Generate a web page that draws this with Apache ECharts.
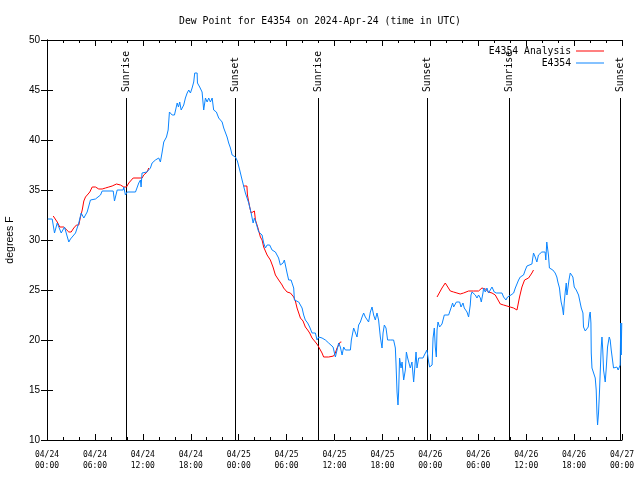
<!DOCTYPE html>
<html><head><meta charset="utf-8">
<script src="https://cdn.jsdelivr.net/npm/echarts@6/dist/echarts.min.js"></script>
<style>html,body{margin:0;padding:0;background:#fff}#c{width:640px;height:480px}</style>
</head><body><div id="c"></div>
<script>
// x values are hours since 2024-04-24 00:00 UTC
const tickDates = ['04/24','04/24','04/24','04/24','04/25','04/25','04/25','04/25','04/26','04/26','04/26','04/26','04/27'];
const tickTimes = ['00:00','06:00','12:00','18:00','00:00','06:00','12:00','18:00','00:00','06:00','12:00','18:00','00:00'];
const sunHours = [9.93, 23.6, 33.97, 47.63, 57.89, 71.75];
const sunNames = ['Sunrise','Sunset','Sunrise','Sunset','Sunrise','Sunset'];

const analysisPoints = [
[0.78,32.4],[1.03,32.4],[1.28,31.8],[1.6,31.3],[2.1,31.3],[2.32,31.1],[2.73,30.8],[3.03,30.8],[3.35,31.2],[3.69,31.5],[3.98,31.5],[4.19,32.3],[4.41,33.0],[4.61,33.9],[4.82,34.3],[5.03,34.3],[5.36,34.8],[5.66,35.3],[6.07,35.3],[6.48,35.1],[6.91,35.1],[7.32,35.2],[7.74,35.3],[8.16,35.4],[8.7,35.6],[9.2,35.5],[9.61,35.3],[9.95,35.3],[10.24,35.7],[10.45,35.7],[10.79,36.2],[11.91,36.2],[12.11,36.5],[12.54,36.8],[12.74,37.2],
[18.6,null],
[24.6,35.4],[25.03,35.4],[25.1,34.5],[25.38,33.3],[25.56,32.7],[25.81,32.7],[25.97,32.9],[26.1,32.0],[26.38,31.3],[26.72,30.3],[26.93,30.0],[27.13,29.3],[27.56,28.5],[27.97,28.0],[28.3,27.3],[28.6,26.5],[29.01,26.0],[29.44,25.5],[29.63,25.2],[30.06,24.8],[30.48,24.7],[30.89,24.3],[31.1,23.9],[31.31,23.2],[31.52,22.7],[31.73,22.2],[32.06,21.9],[32.35,21.3],[32.64,21.0],[32.89,20.7],[33.19,20.2],[33.6,19.8],[33.89,19.5],[34.23,19.0],[34.44,18.7],[34.64,18.3],[35.27,18.3],[35.89,18.4],[36.1,18.7],[36.32,19.2],[36.52,19.5],[36.73,19.8],[36.86,19.8],
[42,null],
[48.84,24.3],[49.04,24.5],[49.46,25.2],[49.87,25.7],[50.08,25.6],[50.5,24.9],[50.91,24.8],[51.33,24.7],[51.74,24.6],[52.16,24.7],[52.79,24.9],[53.41,24.9],[54.04,24.9],[54.46,25.2],[54.88,25.1],[55.29,24.8],[55.72,24.7],[56.13,24.5],[56.34,24.2],[56.76,23.6],[57.17,23.5],[57.59,23.4],[58.0,23.3],[58.42,23.2],[58.85,23.0],[58.97,23.2],[59.17,24.3],[59.47,25.3],[59.67,25.5],[59.8,26.0],[60.01,25.8],[60.3,26.2],[60.72,26.7],[60.92,27.0]
];

const stationPoints = [
[0.1,32.1],[0.65,32.1],[0.94,30.7],[1.28,31.7],[1.78,30.7],[2.19,31.3],[2.44,31.2],[2.73,29.8],[2.94,30.1],[3.19,30.0],[3.57,30.7],[3.98,31.7],[4.28,32.7],[4.61,32.2],[5.03,32.8],[5.44,34.0],[6.07,34.1],[6.7,34.5],[6.91,34.9],[8.29,34.9],[8.45,33.9],[8.79,35.0],[9.54,35.0],[9.61,35.3],[9.82,34.5],[10.04,34.8],[11.08,34.8],[11.49,35.7],[11.7,36.0],[11.78,35.3],[11.9,36.7],[12.5,36.8],[12.95,37.2],[13.16,37.7],[13.58,38.0],[13.99,38.2],[14.2,37.8],[14.42,38.8],[14.62,39.8],[14.96,40.3],[15.17,41.0],[15.33,42.8],[15.67,42.5],[15.96,42.5],[16.3,43.7],[16.46,43.3],[16.62,43.8],[16.8,43.0],[17.12,43.5],[17.33,44.2],[17.55,44.7],[17.75,45.0],[17.96,44.7],[18.17,45.2],[18.37,45.8],[18.5,46.7],[18.8,46.7],[18.84,45.7],[19.12,45.3],[19.42,44.8],[19.62,43.0],[19.84,44.2],[20.05,43.8],[20.25,44.2],[20.46,43.8],[20.68,44.2],[20.87,43.0],[21.21,42.8],[21.5,42.2],[21.93,41.8],[22.13,41.2],[22.55,40.3],[22.75,39.7],[22.97,39.2],[23.18,38.5],[23.59,38.3],[23.84,37.9],[24.13,37.0],[24.43,36.0],[24.84,34.7],[25.26,33.7],[25.56,32.7],[25.81,31.7],[25.97,32.2],[26.18,31.7],[26.51,30.8],[26.93,30.5],[27.13,29.7],[27.35,29.2],[27.56,29.5],[27.88,29.5],[28.18,29.0],[28.38,29.2],[28.6,28.8],[28.81,28.8],[29.0,28.2],[29.22,27.5],[29.56,27.7],[29.72,28.0],[29.85,27.8],[30.06,26.7],[30.26,26.0],[30.56,26.0],[30.89,25.2],[30.98,24.0],[31.23,23.8],[31.52,23.8],[31.73,23.7],[31.94,23.2],[32.14,22.5],[32.35,22.0],[32.64,21.7],[32.89,21.3],[33.19,20.7],[33.6,20.7],[33.82,20.0],[34.02,20.3],[34.44,20.2],[34.86,20.0],[35.07,20.0],[35.27,19.7],[35.48,19.7],[35.82,19.3],[36.11,18.3],[36.32,19.0],[36.52,19.7],[36.73,19.3],[36.95,18.5],[37.15,19.3],[37.36,19.0],[37.57,18.8],[37.99,19.0],[38.11,20.0],[38.4,21.2],[38.61,21.2],[38.82,20.3],[39.02,21.5],[39.24,21.8],[39.45,22.3],[39.65,22.7],[39.86,22.3],[40.07,22.5],[40.27,21.8],[40.49,22.8],[40.7,23.3],[40.9,22.5],[41.11,22.0],[41.32,22.7],[41.52,22.0],[41.74,20.3],[41.95,19.2],[42.08,20.7],[42.24,21.5],[42.45,21.2],[42.65,20.0],[42.99,20.0],[43.4,20.0],[43.62,19.2],[43.7,17.7],[43.83,14.8],[43.95,13.5],[44.03,14.8],[44.15,18.2],[44.33,17.2],[44.46,17.8],[44.66,16.0],[44.87,17.0],[45.0,18.8],[45.16,18.2],[45.28,18.2],[45.49,17.2],[45.7,17.8],[45.91,15.8],[46.03,17.0],[46.21,18.8],[46.33,17.2],[46.54,18.2],[46.75,18.1],[47.08,18.2],[47.25,18.5],[47.58,19.0],[47.75,19.1],[47.79,17.8],[47.91,17.3],[48.22,17.5],[48.34,20.2],[48.5,21.2],[48.62,19.3],[48.75,18.3],[48.84,21.0],[48.96,21.8],[49.16,21.3],[49.46,21.6],[49.75,22.5],[49.87,22.3],[50.29,22.5],[50.5,22.7],[50.63,23.3],[50.79,23.7],[50.92,23.3],[51.26,23.8],[51.67,23.8],[51.84,23.3],[52.09,23.7],[52.25,23.2],[52.59,22.8],[52.79,22.3],[53.0,23.5],[53.09,24.5],[53.22,24.8],[53.42,24.7],[53.63,24.5],[53.84,24.2],[54.04,24.5],[54.26,24.2],[54.38,23.8],[54.59,24.7],[54.67,25.2],[54.88,24.8],[55.09,25.2],[55.29,24.7],[55.51,25.0],[55.72,25.3],[55.88,25.3],[56.0,24.8],[56.26,24.7],[56.42,24.7],[56.97,24.7],[57.17,24.3],[57.47,24.0],[57.67,24.3],[57.92,24.3],[58.1,24.5],[58.43,24.7],[58.64,25.2],[58.85,25.3],[59.05,26.0],[59.26,26.3],[59.67,26.5],[59.89,27.0],[60.1,27.4],[60.72,27.6],[60.92,28.7],[61.13,28.3],[61.34,27.8],[61.54,28.5],[61.75,28.3],[61.96,28.8],[62.16,28.6],[62.37,28.8],[62.46,28.0],[62.58,29.8],[62.66,29.8],[62.79,28.5],[62.91,27.2],[63.34,27.0],[63.63,26.7],[63.84,26.3],[63.97,25.8],[64.17,25.2],[64.26,24.5],[64.38,23.8],[64.55,23.2],[64.67,22.5],[64.76,23.7],[64.89,24.8],[65.02,25.7],[65.1,24.5],[65.23,25.2],[65.36,26.0],[65.52,26.7],[65.73,26.7],[65.85,26.3],[66.02,25.3],[66.27,25.0],[66.56,24.5],[66.77,23.7],[66.9,23.2],[67.11,22.7],[67.18,21.3],[67.4,20.9],[67.61,20.8],[67.77,21.3],[67.93,22.5],[68.02,22.8],[68.11,21.7],[68.15,18.7],[68.24,17.2],[68.44,17.0],[68.65,16.2],[68.77,15.0],[68.86,12.7],[68.94,11.5],[69.06,12.7],[69.19,15.0],[69.27,16.7],[69.4,19.3],[69.49,20.3],[69.59,19.0],[69.69,17.0],[69.9,15.8],[70.03,17.2],[70.19,19.3],[70.4,20.3],[70.52,20.0],[70.65,19.0],[70.81,18.8],[70.94,17.2],[71.15,17.3],[71.36,17.3],[71.52,17.0],[71.65,16.8],[71.77,17.5],[71.84,21.7],[71.9,18.5],[71.97,21.7]
];

const xMin = 0, xMax = 72, xStep = 6;
const yMin = 10, yMax = 50, yStep = 5;

const mono = '"DejaVu Sans Mono", "Liberation Mono", monospace';
const sans = '"Liberation Sans", Arial, sans-serif';

const chart = echarts.init(document.getElementById('c'), null, {renderer: 'canvas'});
const axisLine = {show: true, lineStyle: {color: '#000', width: 1}};
const xTick = {show: true, inside: true, length: 6, lineStyle: {color: '#000'}};
const xMinor = {show: true, splitNumber: 3, length: 3, lineStyle: {color: '#000'}};
const legendText = {fontFamily: mono, fontSize: 9.75, color: '#000'};

chart.setOption({
  animation: false,
  backgroundColor: '#fff',
  title: {
    text: 'Dew Point for E4354 on 2024-Apr-24 (time in UTC)',
    left: 'center', top: 11,
    textStyle: {fontFamily: mono, fontSize: 9.75, fontWeight: 'normal', color: '#000'}
  },
  legend: [
    {data: ['E4354 Analysis'], right: 31, top: 41, orient: 'vertical', align: 'right',
     icon: 'rect', itemWidth: 28, itemHeight: 1, textStyle: legendText},
    {data: ['E4354'], right: 31, top: 53, orient: 'vertical', align: 'right',
     icon: 'rect', itemWidth: 28, itemHeight: 1, textStyle: legendText}
  ],
  grid: {left: 47, right: 18, top: 40, bottom: 40, containLabel: false, outerBoundsMode: 'none'},
  xAxis: [
    {type: 'value', position: 'bottom', min: xMin, max: xMax, interval: xStep,
     axisLine: axisLine, axisTick: xTick, minorTick: xMinor, splitLine: {show: false},
     axisLabel: {margin: 9, fontFamily: mono, fontSize: 8, lineHeight: 11, color: '#000',
       showMinLabel: true, showMaxLabel: true,
       formatter: v => { const i = Math.round((v - xMin) / xStep); return tickDates[i] + '\n' + tickTimes[i]; }}},
    {type: 'value', position: 'top', min: xMin, max: xMax, interval: xStep,
     axisLine: axisLine, axisTick: xTick, minorTick: xMinor, splitLine: {show: false},
     axisLabel: {show: false}}
  ],
  yAxis: [
    {type: 'value', position: 'left', min: yMin, max: yMax, interval: yStep,
     axisLine: axisLine, axisTick: {show: true, inside: true, length: 6, lineStyle: {color: '#000'}},
     splitLine: {show: false},
     axisLabel: {margin: 7, fontFamily: sans, fontSize: 10, color: '#000'},
     name: 'degrees F', nameLocation: 'middle', nameGap: 31, nameRotate: 90,
     nameTextStyle: {fontFamily: sans, fontSize: 10.5, color: '#000'}},
    {type: 'value', position: 'right', min: yMin, max: yMax, interval: yStep,
     axisLine: axisLine, axisTick: {show: true, inside: true, length: 6, lineStyle: {color: '#000'}},
     splitLine: {show: false}, axisLabel: {show: false}}
  ],
  series: [
    {
      type: 'custom', name: 'sun', xAxisIndex: 0, yAxisIndex: 0, z: 1, silent: true,
      data: sunHours.map(h => [h, yMin]),
      renderItem: (params, api) => {
        const h = api.value(0);
        const b = api.coord([h, yMin]);
        const t = api.coord([h, yMax]);
        const x = Math.round(b[0]) + 0.5;
        const topY = t[1] + 58;
        return {type: 'group', children: [
          {type: 'line', shape: {x1: x, y1: topY, x2: x, y2: b[1]}, style: {stroke: '#000', lineWidth: 1}},
          {type: 'text', x: x, y: topY - 6, rotation: Math.PI / 2,
           style: {text: sunNames[params.dataIndex], fill: '#000', font: '9.75px ' + mono, align: 'left', verticalAlign: 'middle'}}
        ]};
      }
    },
    {
      type: 'line', name: 'E4354 Analysis', xAxisIndex: 0, yAxisIndex: 0, z: 3,
      data: analysisPoints, symbol: 'none', showSymbol: false, connectNulls: false,
      lineStyle: {color: '#ff0000', width: 1}, itemStyle: {color: '#ff0000'}
    },
    {
      type: 'line', name: 'E4354', xAxisIndex: 0, yAxisIndex: 0, z: 4,
      data: stationPoints, symbol: 'none', showSymbol: false,
      lineStyle: {color: '#0a85ff', width: 1}, itemStyle: {color: '#0a85ff'}
    }
  ]
});
</script>
</body></html>
